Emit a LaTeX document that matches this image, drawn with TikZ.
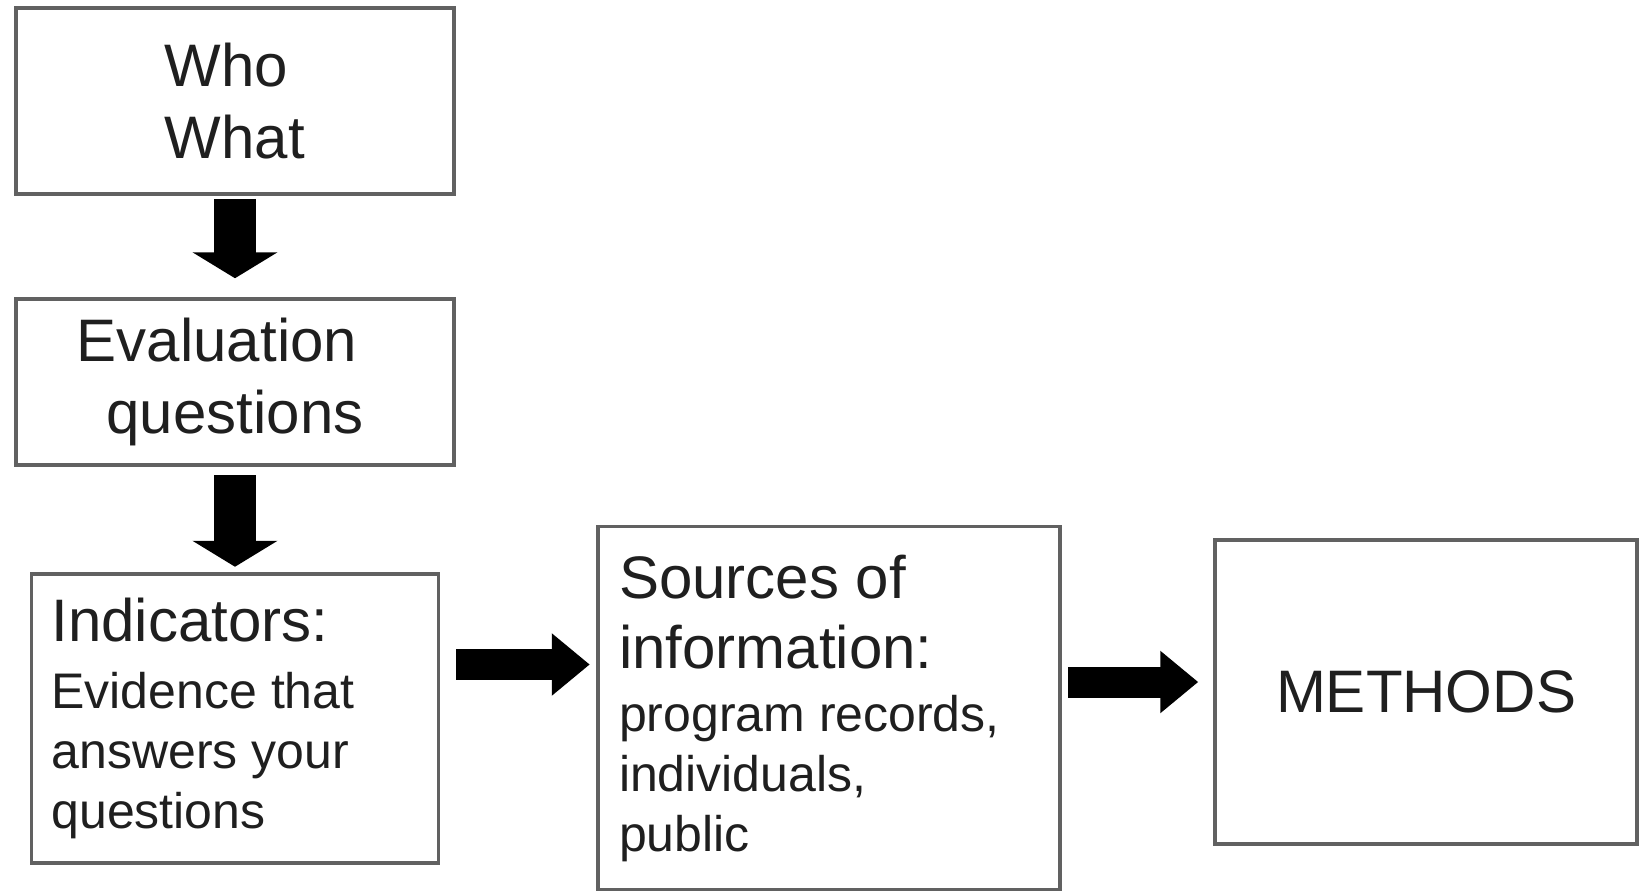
\documentclass[tikz,border=0pt]{standalone}
\usepackage{fontspec}
\setmainfont{Liberation Sans}
\usetikzlibrary{arrows.meta}

\begin{document}
\begin{tikzpicture}[x=1pt, y=-1pt]
  \tikzstyle{flow box} = [draw=black!62, line width=3.5pt, text=black!88, inner sep=0pt, font=\fontsize{60pt}{72pt}\selectfont]
  \tikzstyle{down arrow} = [line width=42pt, -{Triangle[width=84pt, length=26pt]}]
  \tikzstyle{right arrow} = [line width=31pt, -{Triangle[width=60pt, length=38pt]}]
  \useasboundingbox (0, 0) rectangle (1645, 892);
  % left column
  \node[flow box, minimum width=438pt, minimum height=186pt, align=left] (who) at (235, 101) {Who\\What};
  \node[flow box, minimum width=438pt, minimum height=166pt, align=center] (evalq) at (235, 382) {Evaluation\hspace*{36pt}\\questions};
  \node[flow box, text width=367pt, inner xsep=20pt, minimum height=289pt, align=flush left] (ind) at (235, 718.5)
    {Indicators:\\[7pt] \fontsize{50pt}{60pt}\selectfont Evidence that\\ answers your\\ questions\par};
  % bottom row
  \node[flow box, text width=420pt, inner xsep=21pt, minimum height=363pt, align=flush left] (src) at (829, 708)
    {Sources of\\[-2pt] information:\\[3pt] \fontsize{50pt}{60pt}\selectfont program records,\\ individuals,\\ public\par};
  \node[flow box, minimum width=422pt, minimum height=304pt] (meth) at (1426, 692) {METHODS};
  % arrows
  \draw[down arrow, shorten <=3pt, shorten >=19pt] (who.south) -- (evalq.north);
  \draw[down arrow, shorten <=8.5pt, shorten >=5.5pt] (evalq.south) -- (ind.north);
  \draw[right arrow, shorten <=16pt, shorten >=6.5pt] ([yshift=54pt]ind.east) -- ([yshift=54pt]ind.east -| src.west);
  \draw[right arrow, shorten <=6.5pt, shorten >=15pt] ([yshift=26pt]src.east) -- ([yshift=26pt]src.east -| meth.west);
\end{tikzpicture}
\end{document}
